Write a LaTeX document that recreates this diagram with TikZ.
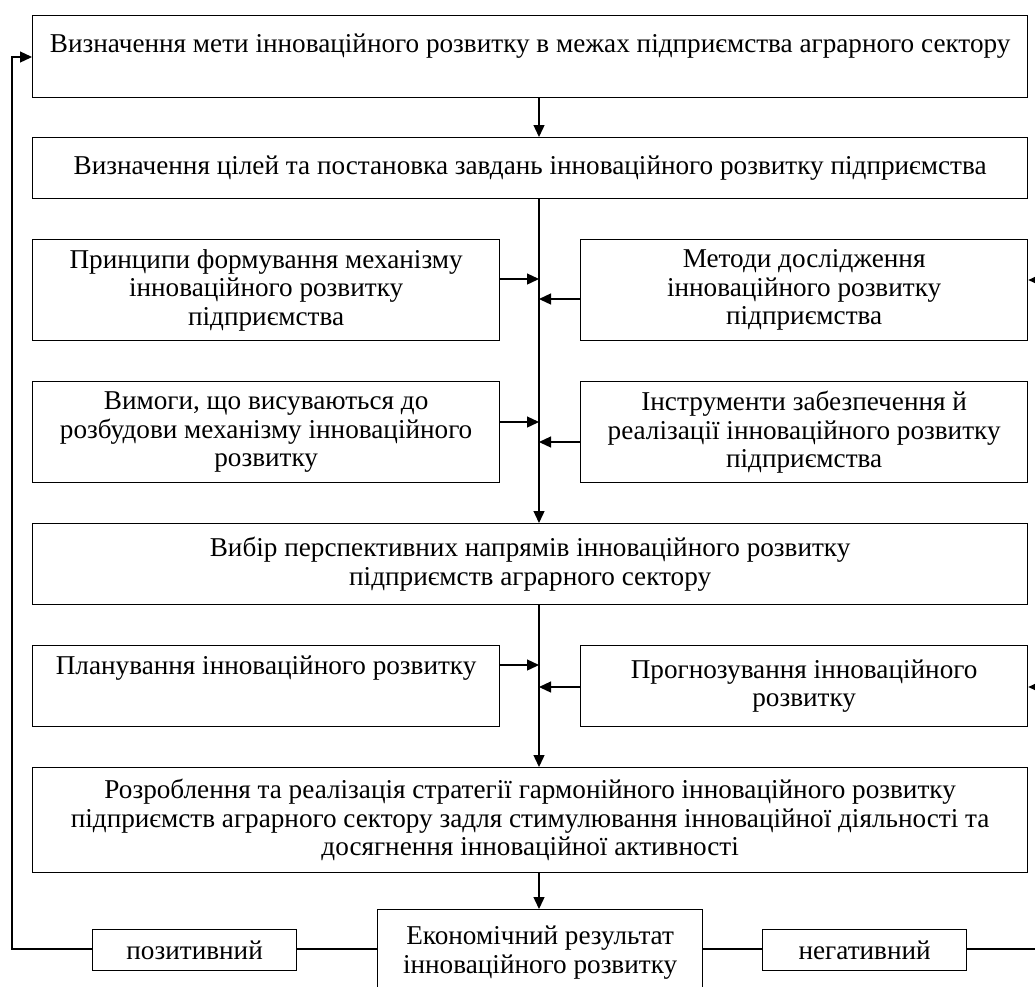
\documentclass[tikz,border=0pt]{standalone}
\usepackage{fontspec}
\setmainfont{Liberation Serif}
\usetikzlibrary{arrows.meta}
\begin{document}
\begin{tikzpicture}[x=1pt,y=-1pt,
  box/.style={draw, line width=1.3pt, inner sep=0pt, align=center, anchor=north west,
    font=\fontsize{27.2}{28.5}\selectfont},
  arr/.style={line width=1.3pt, -{Triangle[length=12pt,width=11pt]}},
  ln/.style={line width=1.3pt}]
\path[use as bounding box] (0,0) rectangle (1035,986);
\clip (0,0) rectangle (1035,986);
\node[box, minimum width=995pt, minimum height=82pt, text height=37pt, text depth=45pt] (aim) at (32,15)
  {Визначення мети інноваційного розвитку в межах підприємства аграрного сектору};
\node[box, minimum width=995pt, minimum height=61pt] (goal) at (32,137)
  {Визначення цілей та постановка завдань інноваційного розвитку підприємства};
\node[box, minimum width=467pt, minimum height=101pt] (princ) at (32,239)
  {Принципи формування механізму\\інноваційного розвитку\\підприємства};
\node[box, minimum width=447pt, minimum height=101pt] (meth) at (580,239)
  {Методи дослідження\\інноваційного розвитку\\підприємства};
\node[box, minimum width=467pt, minimum height=101pt] (req) at (32,381)
  {Вимоги, що висуваються до\\розбудови механізму інноваційного\\розвитку};
\node[box, minimum width=447pt, minimum height=101pt] (tools) at (580,381)
  {Інструменти забезпечення й\\реалізації інноваційного розвитку\\підприємства};
\node[box, minimum width=995pt, minimum height=81pt] (choice) at (32,523)
  {Вибір перспективних напрямів інноваційного розвитку\\підприємств аграрного сектору};
\node[box, minimum width=467pt, minimum height=81pt, text height=29pt, text depth=52pt] (plan) at (32,645)
  {Планування інноваційного розвитку};
\node[box, minimum width=447pt, minimum height=81pt] (fore) at (580,645)
  {Прогнозування інноваційного\\розвитку};
\node[box, minimum width=995pt, minimum height=105pt] (dev) at (32,767)
  {Розроблення та реалізація стратегії гармонійного інноваційного розвитку\\підприємств аграрного сектору задля стимулювання інноваційної діяльності та\\досягнення інноваційної активності};
\node[box, minimum width=325pt, minimum height=86pt] (res) at (377,909)
  {Економічний результат\\інноваційного розвитку};
\node[box, minimum width=204pt, minimum height=41pt] (pos) at (92,929) {позитивний};
\node[box, minimum width=204pt, minimum height=41pt] (neg) at (762,929) {негативний};

\coordinate (t) at (539,0);
\coordinate (a1) at (539,279);
\coordinate (a2) at (539,299);
\coordinate (a3) at (539,422);
\coordinate (a4) at (539,442);
\coordinate (a5) at (539,665);
\coordinate (a6) at (539,687);
\coordinate (L) at (12,949);
\coordinate (la) at (12,57);
\coordinate (R) at (1050,949);
\coordinate (r1) at (1050,280);
\coordinate (r2) at (1050,687);

\draw[arr] (aim.south -| t) -- (goal.north -| t);
\draw[arr] (goal.south -| t) -- (choice.north -| t);
\draw[arr] (princ.east |- a1) -- (a1);
\draw[arr] (meth.west |- a2) -- (a2);
\draw[arr] (req.east |- a3) -- (a3);
\draw[arr] (tools.west |- a4) -- (a4);
\draw[arr] (choice.south -| t) -- (dev.north -| t);
\draw[arr] (plan.east |- a5) -- (a5);
\draw[arr] (fore.west |- a6) -- (a6);
\draw[arr] (dev.south -| t) -- (res.north -| t);
\draw[ln] (res.west |- L) -- (pos.east |- L);
\draw[arr] (pos.west |- L) -- (L) -- (la) -- (aim.west |- la);
\draw[ln] (res.east |- L) -- (neg.west |- L);
\draw[ln] (neg.east |- L) -- (R) -- (r1);
\draw[arr] (r1) -- (meth.east |- r1);
\draw[arr] (r2) -- (fore.east |- r2);
\end{tikzpicture}
\end{document}
